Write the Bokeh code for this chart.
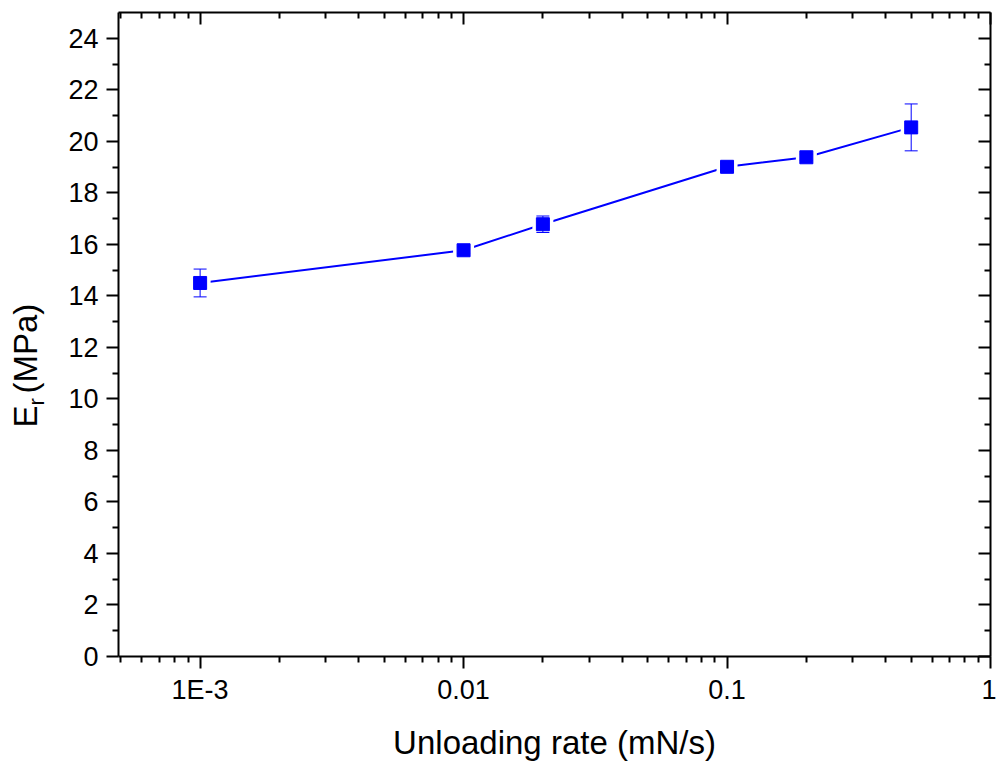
import math
from bokeh.plotting import figure
from bokeh.models import (ColumnDataSource, Whisker, TeeHead, LogAxis, LinearAxis,
                          FixedTicker, Label, Range1d, CustomJSTickFormatter)
from bokeh.embed import file_html
from bokeh.resources import INLINE

# ---- data ----
rates = [0.001, 0.01, 0.02, 0.1, 0.2, 0.5]
er_mpa = [14.50, 15.77, 16.78, 19.01, 19.38, 20.54]
er_err = [0.54, 0.12, 0.32, 0.12, 0.12, 0.91]

x_tick_values = [0.001, 0.01, 0.1, 1.0]
x_tick_labels = ["1E-3", "0.01", "0.1", "1"]
y_tick_values = list(range(0, 25, 2))
y_minor_values = list(range(1, 25, 2))

x_min, x_max = 4.9e-4, 1.0
y_min, y_max = 0, 25

x_minor_values = [m * 10.0 ** e for e in range(-4, 0) for m in range(2, 10)
                  if x_min < m * 10.0 ** e < x_max]

BLUE = "#0000FF"
FONT = "Liberation Sans"

src = ColumnDataSource(dict(
    x=rates, y=er_mpa,
    upper=[v + e for v, e in zip(er_mpa, er_err)],
    lower=[v - e for v, e in zip(er_mpa, er_err)],
))

p = figure(width=996, height=763, x_axis_type="log",
           x_range=Range1d(x_min, x_max), y_range=Range1d(y_min, y_max),
           output_backend="svg", toolbar_location=None,
           min_border_left=118, min_border_right=6,
           min_border_top=12, min_border_bottom=104)
p.grid.visible = False
p.outline_line_color = None
p.background_fill_color = "white"
p.border_fill_color = "white"

xticker = FixedTicker(ticks=x_tick_values, minor_ticks=x_minor_values)
yticker = FixedTicker(ticks=y_tick_values, minor_ticks=y_minor_values)

p.xaxis.ticker = xticker
p.yaxis.ticker = yticker
p.xaxis.formatter = CustomJSTickFormatter(
    args=dict(vals=x_tick_values, labs=x_tick_labels),
    code="""
    let best = 0;
    for (let i = 0; i < vals.length; i++) {
      if (Math.abs(Math.log10(tick) - Math.log10(vals[i])) <
          Math.abs(Math.log10(tick) - Math.log10(vals[best]))) best = i;
    }
    return labs[best];
    """)

for ax in [p.xaxis[0], p.yaxis[0]]:
    ax.axis_line_width = 2
    ax.axis_line_color = "black"
    ax.major_tick_line_width = 2
    ax.minor_tick_line_width = 2
    ax.major_tick_line_color = "black"
    ax.minor_tick_line_color = "black"
    ax.major_tick_out = 12
    ax.major_tick_in = 0
    ax.minor_tick_out = 6
    ax.minor_tick_in = 0
    ax.major_label_text_font = FONT
    ax.major_label_text_font_size = "27px"
    ax.major_label_text_color = "black"

p.yaxis.major_label_standoff = 8
p.xaxis.major_label_standoff = 6

p.xaxis.axis_label = "Unloading rate (mN/s)"
p.xaxis.axis_label_text_font = FONT
p.xaxis.axis_label_text_font_size = "33px"
p.xaxis.axis_label_text_font_style = "normal"
p.xaxis.axis_label_text_color = "black"
p.xaxis.axis_label_standoff = 16

blank = CustomJSTickFormatter(code="return '';")
top_axis = LogAxis(ticker=xticker, formatter=blank, major_label_text_font_size="0px",
                   major_label_standoff=0, major_tick_in=12, major_tick_out=0,
                   minor_tick_in=6, minor_tick_out=0, axis_line_width=2,
                   major_tick_line_width=2, minor_tick_line_width=2)
right_axis = LinearAxis(ticker=yticker, formatter=blank, major_label_text_font_size="0px",
                        major_label_standoff=0, major_tick_in=12, major_tick_out=0,
                        minor_tick_in=6, minor_tick_out=0, axis_line_width=2,
                        major_tick_line_width=2, minor_tick_line_width=2)
p.add_layout(top_axis, "above")
p.add_layout(right_axis, "right")

# y-axis title with subscript (canvas coordinates, placed in the left side panel)
common = dict(x_units="canvas", y_units="canvas", angle=math.pi / 2, text_font=FONT,
              text_color="black", text_baseline="alphabetic", text_align="left")
p.add_layout(Label(x=25, y=427, text="E\u00a0\u200a(MPa)", text_font_size="33px", **common), "left")
p.add_layout(Label(x=36, y=405, text="r", text_font_size="22px", **common), "left")

# data
p.line("x", "y", source=src, line_color=BLUE, line_width=2)
p.scatter("x", "y", source=src, marker="square", size=21, fill_color="white", line_color=None)
p.scatter("x", "y", source=src, marker="square", size=13, fill_color=BLUE, line_color=BLUE, line_width=1)
p.add_layout(Whisker(source=src, base="x", upper="upper", lower="lower",
                     line_color=BLUE, line_width=1, level="overlay",
                     upper_head=TeeHead(size=13, line_color=BLUE, line_width=1),
                     lower_head=TeeHead(size=13, line_color=BLUE, line_width=1)))

open("out.html", "w").write(file_html(p, INLINE))
